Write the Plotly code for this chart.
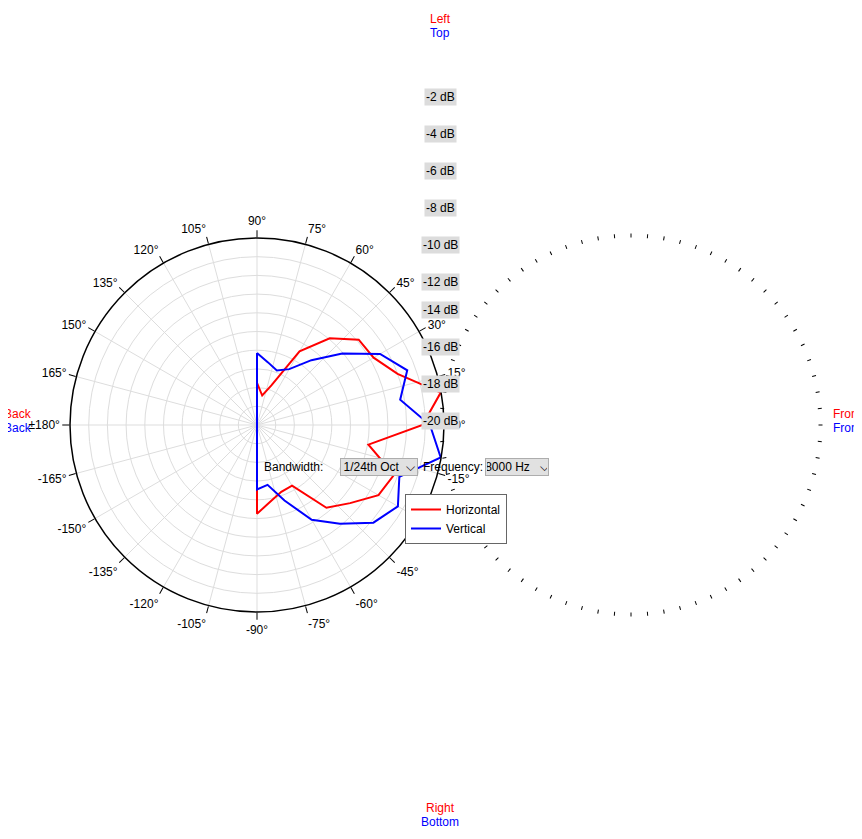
import plotly.graph_objects as go

# polar response, 8000 Hz, 1/24th oct
angles = [90, 80, 70, 60, 50, 40, 30, 20, 10, 0, -10, -20, -30, -40, -50, -60, -70, -80, -90]
horizontal = [-15.5, -16.8, -15.5, -10.9, -7.9, -5.8, -5.6, -4.0, -0.05, -2.3, -7.9, -4.4, -5.0, -7.0,
              -8.45, -12.5, -12.4, -11.7, -10.5]
vertical = [-12.3, -13.2, -13.8, -13.1, -10.95, -8.1, -4.8, -2.9, -4.45, -1.5, -0.05, -3.8, -2.6, -3.75,
            -6.2, -8.3, -11.4, -13.5, -13.1]
back_angles = [100, 180, 260]
back_level = [-20, -20, -20]
db_ticks = [-2, -4, -6, -8, -10, -12, -14, -16, -18, -20]

W, H = 862, 839
ML, MT, PS = 62, 43, 748
MR = W - ML - PS
MB = H - MT - PS


def px(x, y):
    # page pixel -> paper coords (with offset seen in the render)
    return (x - 8 - ML) / PS, (H - MB - (y - 7)) / PS


def ang_label(a):
    if a == 180:
        return "±180°"
    v = a if a <= 180 else a - 360
    return f"{v}°"


major = list(range(0, 360, 15))
minor = list(range(0, 360, 5))

fig = go.Figure()
for name, vals, col in [("Horizontal", horizontal, "#ff0000"), ("Vertical", vertical, "#0000ff")]:
    th = angles + back_angles + [angles[0]]
    rr = vals + back_level + [vals[0]]
    fig.add_trace(go.Scatterpolar(theta=th, r=rr, mode="lines", name=name,
                                  line=dict(color=col, width=2)))
# dummy trace so the second polar (minor ticks) is drawn
fig.add_trace(go.Scatterpolar(theta=[0], r=[-20], mode="markers", marker=dict(size=0.1, opacity=0),
                              showlegend=False, hoverinfo="skip", subplot="polar2"))

fig.update_layout(
    width=W, height=H, margin=dict(l=ML, r=MR, t=MT, b=MB),
    paper_bgcolor="white", font=dict(family="Liberation Sans", size=12, color="black"),
    polar=dict(
        bgcolor="white",
        angularaxis=dict(rotation=0, direction="counterclockwise", tickmode="array",
                         tickvals=major, ticktext=[ang_label(a) for a in major], ticks="outside",
                         ticklen=7, tickcolor="black", linecolor="black", linewidth=1.5,
                         gridcolor="#dddddd", showgrid=True),
        radialaxis=dict(range=[-20, 0], tickvals=db_ticks, showticklabels=False, ticks="",
                        gridcolor="#dddddd", showline=False, angle=90),
    ),
    polar2=dict(
        bgcolor="rgba(0,0,0,0)",
        angularaxis=dict(rotation=0, direction="counterclockwise", tickmode="array",
                         tickvals=minor, showticklabels=False, ticks="outside", ticklen=4,
                         tickcolor="black", showline=False, showgrid=False),
        radialaxis=dict(range=[-20, 0], visible=False, showgrid=False),
    ),
    legend=dict(x=px(405, 0)[0], y=px(0, 493)[1], xanchor="left", yanchor="top",
                bordercolor="#666666", borderwidth=1, bgcolor="white",
                font=dict(size=12), tracegroupgap=0, itemwidth=30),
)

ann = []
for d in db_ticks:
    y = 420 - (d + 20) / 20 * 370
    x0, y0 = px(440, y)
    ann.append(dict(x=x0, y=y0, text=f"{d} dB", showarrow=False, bgcolor="#dcdcdc",
                    font=dict(size=12)))


def txt(x, y, t, color="black", **kw):
    x0, y0 = px(x, y)
    ann.append(dict(x=x0, y=y0, text=t, showarrow=False, font=dict(size=12, color=color), **kw))


txt(440, 9, "Left", "#ff0000")
txt(440, 23, "Top", "#0000ff")
txt(440, 816, "Right", "#ff0000")
txt(440, 830, "Bottom", "#0000ff")
txt(2, 413, "Back", "#ff0000", xanchor="left")
txt(2, 427, "Back", "#0000ff", xanchor="left")
txt(831, 413, "Front", "#ff0000", xanchor="left")
txt(831, 427, "Front", "#0000ff", xanchor="left")
txt(325, 466, "Bandwidth:", xanchor="right")
txt(421, 466, "Frequency:", xanchor="left")
txt(379, 466, "1/24th Oct  ⌵", bgcolor="#e1e1e1", bordercolor="#adadad", borderwidth=1, width=74)
txt(517, 466, "8000 Hz   ⌵", bgcolor="#e1e1e1", bordercolor="#adadad", borderwidth=1, width=60)
fig.update_layout(annotations=ann)

fig.write_html("out.html")
